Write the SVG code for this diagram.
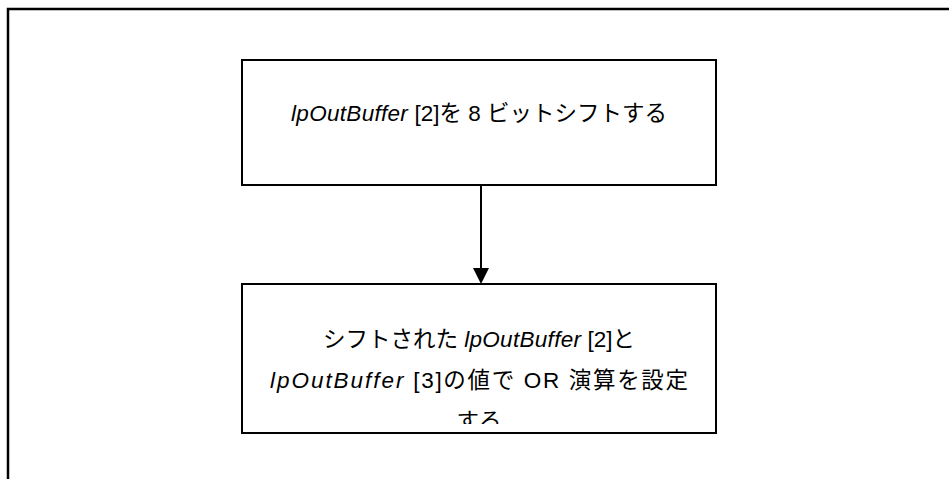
<svg xmlns="http://www.w3.org/2000/svg" width="949" height="479" viewBox="0 0 949 479">
<style>
.box{fill:#fff;stroke:#000;stroke-width:2}
.frame{fill:none;stroke:#000;stroke-width:2.5}
.t{font-family:"Liberation Sans","Noto Sans CJK JP",sans-serif;font-size:22.5px;fill:#000;text-anchor:middle}
.i{font-style:italic;letter-spacing:0.3px}
.conn{stroke:#000;stroke-width:2;fill:none}
</style>
<defs>
<clipPath id="clipB"><rect x="242" y="284" width="474" height="140"/></clipPath>
</defs>
<rect width="949" height="479" fill="#fff"/>
<path class="frame" d="M8,479 V9 H949"/>
<g id="node1">
<rect class="box" x="242" y="60" width="474" height="125"/>
<text class="t" x="479" y="121"><tspan class="i">lpOutBuffer</tspan> [2]を 8 ビットシフトする</text>
</g>
<g id="node2">
<rect class="box" x="242" y="284" width="474" height="149"/>
<g clip-path="url(#clipB)">
<text class="t" x="479" y="347">シフトされた <tspan class="i">lpOutBuffer</tspan> [2]と</text>
<text class="t" x="479" y="388" textLength="418" lengthAdjust="spacing"><tspan class="i">lpOutBuffer</tspan> [3]の値で OR 演算を設定</text>
<text class="t" x="479" y="429">する</text>
</g>
</g>
<g id="connectors">
<line class="conn" x1="481" y1="185" x2="481" y2="269"/>
<polygon points="473,268 489,268 481,284" fill="#000"/>
</g>
</svg>
